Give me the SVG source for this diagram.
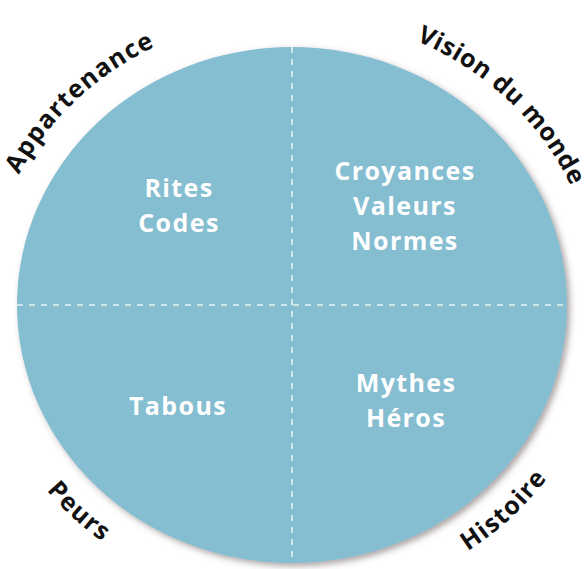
<svg xmlns="http://www.w3.org/2000/svg" width="587" height="569" viewBox="0 0 587 569">
<defs>
<filter id="sh" x="-10%" y="-10%" width="120%" height="120%">
<feDropShadow dx="3" dy="3" stdDeviation="3" flood-color="#5a4a4a" flood-opacity="0.5"/>
</filter>
<path id="pTL" d="M 1,215.7 A 306 289 0 0 1 197.4 30.2"/>
<path id="pTR" d="M 386.6,30.2 A 306 289 0 0 1 583 215.7"/>
<path id="pBL" d="M -22,305 A 314 297 0 0 0 292 602"/>
<path id="pBR" d="M 292,602 A 314 297 0 0 0 606 305"/>
</defs>
<style>
.in{font-family:"Open Sans","Liberation Sans",sans-serif;font-weight:bold;font-size:25px;fill:#ffffff;text-anchor:middle;letter-spacing:1.4px}
.out{font-family:"Open Sans","Liberation Sans",sans-serif;font-weight:bold;font-size:25px;fill:#111111;text-anchor:middle;letter-spacing:1.2px}
.dash{stroke:#e4f3f8;stroke-width:1.6;stroke-dasharray:6 6;fill:none}
</style>
<rect width="587" height="569" fill="#ffffff"/>
<g id="disc">
<ellipse cx="292" cy="305" rx="275" ry="258" fill="#85bdd1" filter="url(#sh)"/>
</g>
<g id="connectors">
<line class="dash" x1="292" y1="47" x2="292" y2="563"/>
<line class="dash" x1="17" y1="305" x2="567" y2="305"/>
</g>
<g id="q-tl"><text class="in" x="179" y="197">Rites</text><text class="in" x="179" y="232">Codes</text></g>
<g id="q-tr"><text class="in" x="405" y="180">Croyances</text><text class="in" x="405" y="215">Valeurs</text><text class="in" x="405" y="250">Normes</text></g>
<g id="q-bl"><text class="in" x="178" y="415">Tabous</text></g>
<g id="q-br"><text class="in" x="406" y="392">Mythes</text><text class="in" x="406" y="427">Héros</text></g>
<g id="l-tl"><text class="out"><textPath href="#pTL" startOffset="50%">Appartenance</textPath></text></g>
<g id="l-tr"><text class="out" style="letter-spacing:0.6px"><textPath href="#pTR" startOffset="50%">Vision du monde</textPath></text></g>
<g id="l-bl"><text class="out"><textPath href="#pBL" startOffset="50%">Peurs</textPath></text></g>
<g id="l-br"><text class="out"><textPath href="#pBR" startOffset="50%">Histoire</textPath></text></g>
</svg>
